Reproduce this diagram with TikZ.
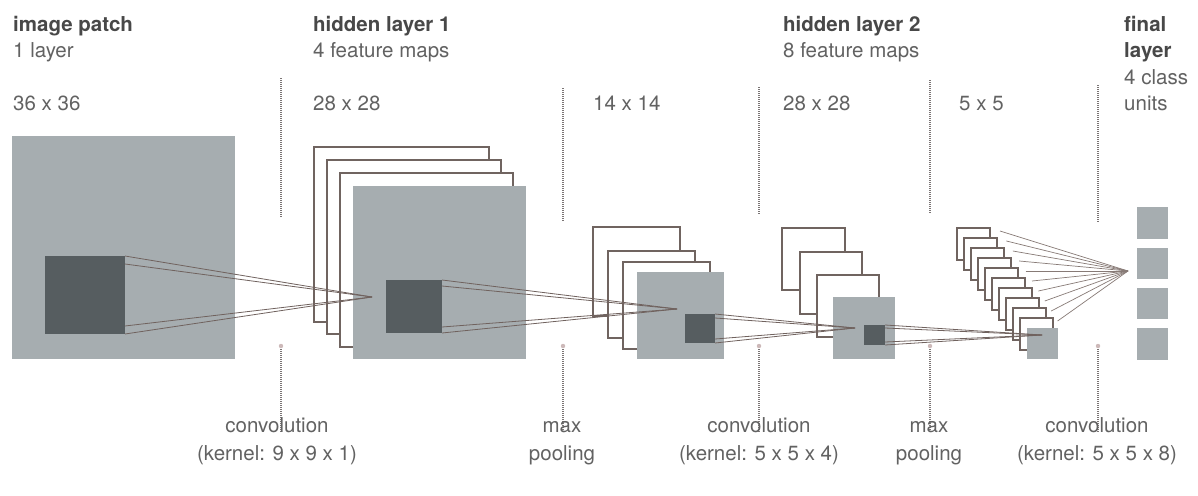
\documentclass[tikz,border=0pt]{standalone}
\usepackage{fontspec}
\setmainfont{TeX Gyre Heros}
\definecolor{boxgray}{RGB}{166,173,176}
\definecolor{darkc}{RGB}{86,93,96}
\definecolor{framec}{RGB}{112,100,96}
\definecolor{connc}{RGB}{112,98,94}
\definecolor{fanc}{RGB}{135,122,118}
\definecolor{txtc}{RGB}{98,98,98}
\definecolor{ttlc}{RGB}{72,72,72}
\definecolor{sepc}{RGB}{122,116,116}
\definecolor{dotc}{RGB}{205,185,185}
\tikzset{
  frame/.style={draw=framec, line width=1.3pt, fill=white},
  fmap/.style={fill=boxgray},
  kern/.style={fill=darkc},
  conn/.style={draw=connc, line width=0.8pt},
  fan/.style={draw=fanc, line width=0.7pt},
  sep/.style={draw=sepc, line width=1.2pt, dash pattern=on 1pt off 1pt},
  lbl/.style={text=txtc, font=\fontsize{20.5}{24}\selectfont, inner sep=0pt},
  ttl/.style={text=ttlc, font=\fontsize{20.5}{24}\selectfont\bfseries, inner sep=0pt},
  blbl/.style={text=txtc, font=\fontsize{20.5}{28}\selectfont, inner sep=0pt, align=center, anchor=base},
}
\begin{document}
\begin{tikzpicture}[x=1pt,y=-1pt]
\useasboundingbox (0,0) rectangle (1198,495);
\fill[white] (0,0) rectangle (1198,495);

% ---------- top texts ----------
\node[ttl, anchor=base west] (t1a) at (13,32) {image patch};
\node[lbl, anchor=base west] (t1b) at (13,58) {1 layer};
\node[lbl, anchor=base west] (t1c) at (13,110) {36 x 36};
\node[ttl, anchor=base west] (t2a) at (313,32) {hidden layer 1};
\node[lbl, anchor=base west] (t2b) at (313,58) {4 feature maps};
\node[lbl, anchor=base west] (t2c) at (313,110) {28 x 28};
\node[lbl, anchor=base west] (t3c) at (593,110) {14 x 14};
\node[ttl, anchor=base west] (t4a) at (783,32) {hidden layer 2};
\node[lbl, anchor=base west] (t4b) at (783,58) {8 feature maps};
\node[lbl, anchor=base west] (t4c) at (783,110) {28 x 28};
\node[lbl, anchor=base west] (t5c) at (959,110) {5 x 5};
\node[ttl, anchor=base west] (t6a) at (1124,32) {final};
\node[ttl, anchor=base west] (t6b) at (1124,57) {layer};
\node[lbl, anchor=base west] (t6c) at (1124,84) {4 class};
\node[lbl, anchor=base west] (t6d) at (1124,110) {units};

% ---------- separators ----------
\foreach \sx/\ta/\tb in {281/78/218, 563/88/222, 759/87/214, 930/80/214, 1098/85/222}{
  \draw[sep] (\sx,\ta) -- (\sx,\tb);
  \draw[sep] (\sx,349) -- (\sx,433);
  \fill[dotc] (\sx,346) circle (2.2);
}

% ---------- bottom labels ----------
\node[blbl] (b1) at (277,460) {convolution\\(kernel: 9 x 9 x 1)};
\node[blbl] (b2) at (562,460) {max\\pooling};
\node[blbl] (b3) at (759,460) {convolution\\(kernel: 5 x 5 x 4)};
\node[blbl] (b4) at (929,460) {max\\pooling};
\node[blbl] (b5) at (1097,460) {convolution\\(kernel: 5 x 5 x 8)};

% ---------- image patch ----------
\fill[fmap] (12,136) rectangle (235,359);
\fill[kern] (45,256) rectangle (125,334);

% ---------- hidden layer 1 ----------
\draw[frame] (314,147) rectangle (489,322);
\draw[frame] (327,160) rectangle (501,334);
\draw[frame] (340,173) rectangle (513,347);
\fill[fmap] (353,186) rectangle (526,359);
\fill[kern] (386,280) rectangle (442,333);

% ---------- pooling 1 ----------
\draw[frame] (593,227) rectangle (680,316);
\draw[frame] (608,251) rectangle (695,338);
\draw[frame] (623,262) rectangle (710,349);
\fill[fmap] (637,272) rectangle (724,359);
\fill[kern] (685,314) rectangle (715,343);

% ---------- hidden layer 2 ----------
\draw[frame] (782,228) rectangle (845,290);
\draw[frame] (800,252) rectangle (862,314);
\draw[frame] (817,275) rectangle (879,337);
\fill[fmap] (833,297) rectangle (895,359);
\fill[kern] (864,325) rectangle (885,345);

% ---------- pooling 2 (5x5) ----------
\foreach \k in {0,...,9}{
  \draw[frame, line width=1.1pt] ({957+7*\k},{228+10*\k}) rectangle ({990+7*\k},{260+10*\k});
}
\fill[fmap] (1027,328) rectangle (1058,359);

% ---------- final layer ----------
\fill[fmap] (1137,207) rectangle (1168,239);
\fill[fmap] (1137,248) rectangle (1168,279);
\fill[fmap] (1137,288) rectangle (1168,319);
\fill[fmap] (1137,328) rectangle (1168,360);

% ---------- connectors ----------
\coordinate (k1a) at (125,256);
\coordinate (k1b) at (125,264);
\coordinate (k1c) at (125,326);
\coordinate (k1d) at (125,334);
\coordinate (ap1) at (372,297);
\foreach \c in {k1a,k1b,k1c,k1d} \draw[conn] (\c) -- (ap1);

\coordinate (k2a) at (442,280);
\coordinate (k2b) at (442,286);
\coordinate (k2c) at (442,327);
\coordinate (k2d) at (442,333);
\coordinate (ap2) at (677,309);
\foreach \c in {k2a,k2b,k2c,k2d} \draw[conn] (\c) -- (ap2);

\coordinate (k3a) at (715,314);
\coordinate (k3b) at (715,318);
\coordinate (k3c) at (715,339);
\coordinate (k3d) at (715,343);
\coordinate (ap3) at (855,328);
\foreach \c in {k3a,k3b,k3c,k3d} \draw[conn] (\c) -- (ap3);

\coordinate (k4a) at (885,325);
\coordinate (k4b) at (885,328);
\coordinate (k4c) at (885,342);
\coordinate (k4d) at (885,345);
\coordinate (ap4) at (1042,335);
\foreach \c in {k4a,k4b,k4c,k4d} \draw[conn] (\c) -- (ap4);

\coordinate (ap5) at (1128,271);
\foreach \k in {0,...,9}{
  \coordinate (f\k) at ({1000+7*\k-0.6*\k},{231+10*\k});
  \draw[fan] (f\k) -- (ap5);
}
\end{tikzpicture}
\end{document}
